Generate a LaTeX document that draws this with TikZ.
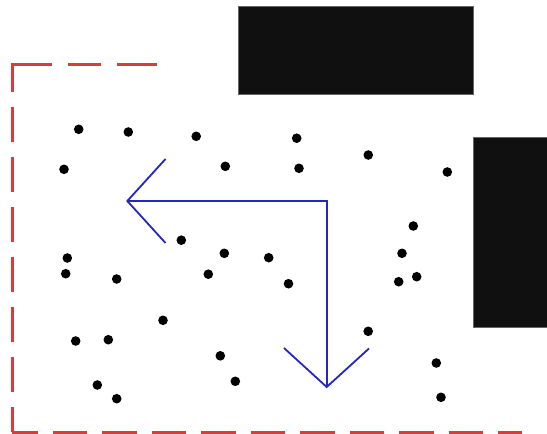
\documentclass[tikz,border=0pt]{standalone}
\begin{document}
\begin{tikzpicture}[x=1pt,y=-1pt,
  reddash/.style={draw=redline,line width=3pt},
  bluearrow/.style={draw=blueline,line width=1.8pt,line join=miter},
  blockbox/.style={fill=blockfill,draw=black!60,line width=0.5pt},
  dotmark/.style={fill=black}]
\definecolor{redline}{RGB}{212,62,62}
\definecolor{blueline}{RGB}{38,38,192}
\definecolor{blockfill}{RGB}{16,16,16}
\useasboundingbox[fill=white] (0,0) rectangle (547,434);
% black blocks
\fill[blockbox] (238,6) rectangle (473,94);
\fill[blockbox] (473,137) rectangle (548,327);
% red dashed border
\coordinate (tl) at (10.5,64.7);
\coordinate (tr) at (157,64.7);
\coordinate (vt) at (12,64.7);
\coordinate (bl) at (12,432);
\coordinate (br) at (522,432);
\draw[reddash,dash pattern=on 41.5pt off 16pt on 33pt off 16pt on 41pt] (tl) -- (tr);
\draw[reddash,dash pattern=on 35pt off 15pt,dash phase=8pt] (vt) -- (bl);
\draw[reddash,dash pattern=on 34.5pt off 15pt,dash phase=9pt] (bl) -- (br);
% blue arrow path
\coordinate (ltip) at (127.3,201);
\coordinate (corner) at (326.7,201);
\coordinate (dtip) at (326.7,387);
\coordinate (la1) at (165.5,159);
\coordinate (la2) at (165.5,243);
\coordinate (da1) at (284,348);
\coordinate (da2) at (369,348.5);
\draw[bluearrow] (ltip) -- (corner) -- (dtip);
\draw[bluearrow] (la1) -- (ltip) -- (la2);
\draw[bluearrow] (da1) -- (dtip) -- (da2);
% dots
\foreach \px/\py in {78.7/129.3,128.3/132,196.2/136.3,296.7/138.2,64/169.3,225.3/166.3,
  299/168.3,368.3/155,447.3/172,413.3/226,181.3/240.2,224.3/253.3,268.7/257.7,
  67.3/258,65.7/273.7,116.7/279,208.3/274.2,288.5/283.7,402/253.3,416.7/276.7,
  398.7/281.7,163/320.3,75.7/341,108.3/339.7,220.3/355.8,368.2/331.3,97.3/385,
  235.3/381.3,116.7/398.7,436.3/363,441/397.3}
  \fill[dotmark] (\px,\py) circle (4.8pt);
\end{tikzpicture}
\end{document}
